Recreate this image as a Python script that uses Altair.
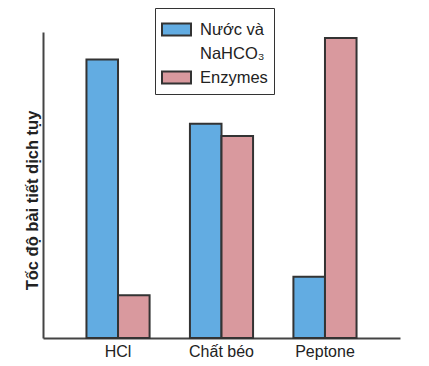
import altair as alt
import pandas as pd

categories = ["HCl", "Chất béo", "Peptone"]
series = ["Nước và NaHCO₃", "Enzymes"]
nuoc_values = [91, 70, 20]
enzyme_values = [14, 66, 98]

rows = []
for c, v in zip(categories, nuoc_values):
    rows.append({"cat": c, "series": series[0], "value": v})
for c, v in zip(categories, enzyme_values):
    rows.append({"cat": c, "series": series[1], "value": v})
df = pd.DataFrame(rows)

FONT = "Liberation Sans"

chart = alt.Chart(df).mark_bar(stroke="#333333", strokeWidth=2).encode(
    x=alt.X("cat:N", sort=categories,
            scale=alt.Scale(paddingInner=0.39, paddingOuter=0.42),
            axis=alt.Axis(title=None, labelAngle=0, ticks=False, domainColor="#444444",
                          domainWidth=2, labelFont=FONT, labelFontSize=16,
                          labelColor="#222222", labelPadding=5)),
    xOffset=alt.XOffset("series:N", sort=series),
    y=alt.Y("value:Q", scale=alt.Scale(domain=[0, 100], nice=False),
            axis=alt.Axis(title="Tốc độ bài tiết dịch tụy", labels=False, ticks=False,
                          grid=False, domainColor="#444444", domainWidth=2,
                          titleFont=FONT, titleFontSize=16.5, titleFontWeight="bold",
                          titleColor="#222222", titlePadding=3, titleY=168)),
    color=alt.Color("series:N", sort=series,
                    scale=alt.Scale(domain=series, range=["#62ACE2", "#D9999E"]),
                    legend=alt.Legend(
                        title=None, orient="none", legendX=112, legendY=-24,
                        labelExpr="datum.label == 'Nước và NaHCO₃' ? ['Nước và', 'NaHCO₃\u00a0\u00a0\u00a0\u00a0'] : datum.label",
                        labelFont=FONT, labelFontSize=16.5, labelColor="#222222",
                        symbolType="M-1,-0.41L1,-0.41L1,0.41L-1,0.41Z", symbolSize=841,
                        symbolStrokeColor="#333333", symbolStrokeWidth=2,
                        strokeColor="#333333", padding=6, rowPadding=0,
                        labelOffset=8)),
).properties(
    width=357, height=306,
    autosize=alt.AutoSizeParams(type="none"),
    padding={"left": 35, "top": 24, "right": 20, "bottom": 28},
).configure(
    style={"guide-label": {"lineHeight": 24}},
    view=alt.ViewConfig(stroke=None),
)

chart.save("out.html", embed_options={"renderer": "svg", "actions": False})
